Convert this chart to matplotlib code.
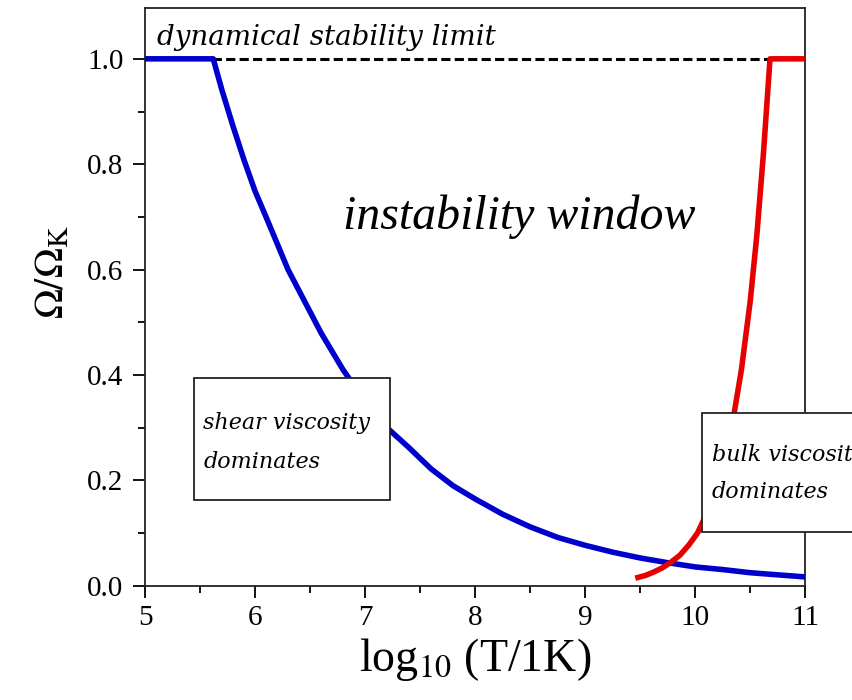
import matplotlib
matplotlib.use('Agg')
import matplotlib.pyplot as plt
from matplotlib.patches import Rectangle
from matplotlib.ticker import MultipleLocator

plt.rcParams['font.family'] = ['Liberation Serif', 'DejaVu Serif']
plt.rcParams['mathtext.fontset'] = 'stix'

# shear viscosity boundary (blue)
shear_x = [5.0, 5.62, 5.7, 5.8, 5.9, 6.0, 6.1, 6.2, 6.3, 6.4, 6.5, 6.6, 6.7, 6.8, 6.9,
           7.0, 7.2, 7.4, 7.6, 7.8, 8.0, 8.25, 8.5, 8.75, 9.0, 9.25, 9.5, 9.75,
           10.0, 10.25, 10.5, 10.75, 11.0]
shear_y = [1.0, 1.0, 0.94, 0.872, 0.808, 0.749, 0.70, 0.65, 0.60, 0.56, 0.52, 0.48, 0.445, 0.41, 0.38,
           0.35, 0.30, 0.262, 0.222, 0.19, 0.165, 0.136, 0.112, 0.092, 0.077, 0.064, 0.053, 0.044,
           0.036, 0.031, 0.025, 0.021, 0.017]

# bulk viscosity boundary (red)
bulk_x = [9.48, 9.55, 9.62, 9.7, 9.78, 9.86, 9.94, 10.02, 10.1, 10.18, 10.26, 10.34,
          10.42, 10.5, 10.56, 10.62, 10.68, 11.0]
bulk_y = [0.016, 0.020, 0.026, 0.034, 0.045, 0.058, 0.077, 0.10, 0.135, 0.178, 0.235, 0.31,
          0.41, 0.54, 0.665, 0.82, 1.0, 1.0]

limit_y = 1.0

fig = plt.figure(figsize=(8.53, 7.0), dpi=100)
ax = fig.add_axes([0.170, 0.163, 0.774, 0.826])

ax.plot([5, 11], [limit_y, limit_y], color='black', lw=2.2, dashes=(3, 1.4), zorder=2)
ax.plot(shear_x, shear_y, color='#0000cc', lw=4, zorder=3, solid_joinstyle='round')
ax.plot(bulk_x, bulk_y, color='#e60000', lw=4, zorder=3, solid_joinstyle='round')

# label boxes sit on top of the curves
ax.add_patch(Rectangle((5.445, 0.163), 1.782, 0.232, facecolor='white',
                       edgecolor='#222222', lw=1.3, zorder=4))
ax.add_patch(Rectangle((10.064, 0.102), 1.5, 0.226, facecolor='white',
                       edgecolor='#222222', lw=1.3, zorder=4, clip_on=False))

box_font = dict(family='DejaVu Serif', style='italic', fontsize=16, va='center', zorder=5)
ax.text(5.53, 0.309, 'shear viscosity', **box_font)
ax.text(5.53, 0.235, 'dominates', **box_font)
ax.text(10.15, 0.249, 'bulk viscosity', clip_on=False, **box_font)
ax.text(10.15, 0.178, 'dominates', clip_on=False, **box_font)

ax.text(5.11, 1.04, 'dynamical stability limit', family='DejaVu Serif', style='italic',
        fontsize=20, va='center')
ax.text(6.8, 0.70, 'instability window', style='italic', fontsize=34.5, va='center')

ax.set_xlim(5, 11)
ax.set_ylim(0, 1.097)
ax.xaxis.set_major_locator(MultipleLocator(1))
ax.xaxis.set_minor_locator(MultipleLocator(0.5))
ax.yaxis.set_minor_locator(MultipleLocator(0.1))
ax.set_yticks([0, 0.2, 0.4, 0.6, 0.8, 1.0])
ax.set_yticklabels(['0.0', '0.2', '0.4', '0.6', '0.8', '1.0'])
ax.tick_params(which='major', direction='out', length=8.5, width=1.3, labelsize=21)
ax.tick_params(axis='y', which='major', pad=7)
ax.tick_params(axis='x', which='major', pad=5)
ax.tick_params(which='minor', direction='out', length=5, width=1.3)
for sp in ax.spines.values():
    sp.set_linewidth(1.3)
    sp.set_color('#222222')

ax.set_xlabel(r'log$_{10}$ (T/1K)', fontsize=33, labelpad=4)
ax.set_ylabel(r'$\Omega/\Omega_\mathrm{K}$', fontsize=29)
ax.yaxis.set_label_coords(-0.11, 0.543)

fig.savefig('out.png', dpi=100)
